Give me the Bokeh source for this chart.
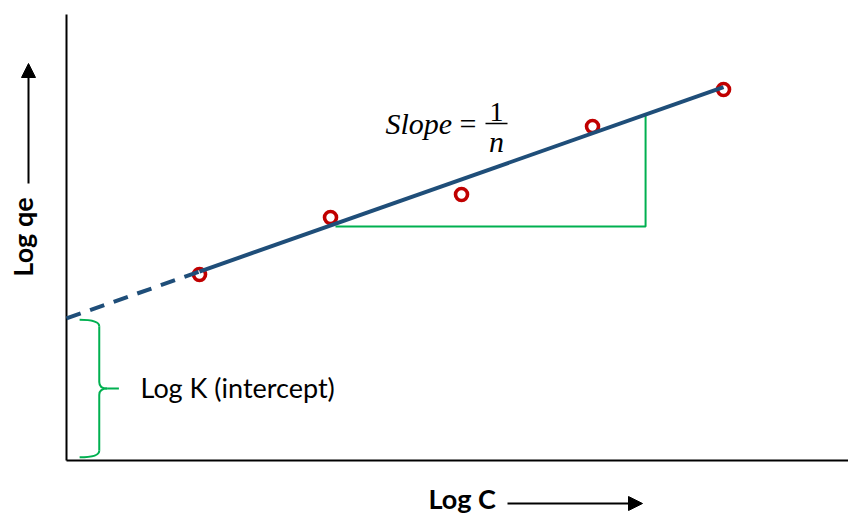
import math

from bokeh.embed import file_html
from bokeh.models import Arrow, Label, NormalHead, Range1d
from bokeh.plotting import figure
from bokeh.resources import INLINE

# Freundlich isotherm, linearised: log qe = log K + (1/n) log C
log_c = [1.0, 2.0, 3.0, 4.0, 5.0]
log_qe = [1.42, 1.855, 2.03, 2.55, 2.832]
log_k = 1.09          # intercept of the fitted line
inv_n = 0.352         # slope of the fitted line (1/n)
slope_run = [2.038, 4.405]   # horizontal leg of the slope triangle (log C)
slope_rise_base = 1.786      # level of the horizontal leg (log qe)

# extent of the drawn axes (data units)
X_START, X_END = -0.0153, 5.954
Y_START, Y_END = 0.0, 3.405

# canvas layout: axes origin at px (66, 460), y axis top at px 14
W, H = 848, 516
LEFT, TOP, BOTTOM = 66, 14, 460
UNIT = (W - LEFT) / (X_END - X_START)   # pixels per data unit (both axes)


def canvas_to_data(xp, yp):
    """Convert a canvas pixel position into data coordinates."""
    return X_START + (xp - LEFT) / UNIT, (BOTTOM - yp) / UNIT


def fit(x):
    return log_k + inv_n * x


BLUE = "#1F4E79"
RED = "#C00000"
GREEN = "#00B050"
SANS = "Lato"
SERIF = "Liberation Serif"

p = figure(
    width=W, height=H,
    x_range=Range1d(X_START - LEFT / UNIT, X_END),
    y_range=Range1d(-(H - BOTTOM) / UNIT, BOTTOM / UNIT),
    x_axis_type=None, y_axis_type=None,
    output_backend="svg", toolbar_location=None,
    min_border=0,
)
p.outline_line_color = None
p.grid.visible = False
p.background_fill_color = "white"
p.border_fill_color = "white"

# axes
p.segment(x0=[X_START, X_START], y0=[Y_START, Y_START],
          x1=[X_START, X_END], y1=[Y_END, Y_START],
          line_color="black", line_width=2)

# slope triangle
x_a, x_b = slope_run
p.line([x_a, x_b, x_b], [slope_rise_base, slope_rise_base, fit(x_b)],
       line_color=GREEN, line_width=2)

# measured points
p.scatter(log_c, log_qe, size=12, marker="circle",
          line_color=RED, line_width=3.6, fill_color="white")

# fitted line: extrapolated part dashed back to the axis
p.line([X_START, log_c[0]], [fit(X_START), fit(log_c[0])],
       line_color=BLUE, line_width=4, line_dash="15 10")
p.line([log_c[0], log_c[-1]], [fit(log_c[0]), fit(log_c[-1])],
       line_color=BLUE, line_width=4)

# curly brace marking the intercept on the y axis
tip = X_START + 0.10
spine = X_START + 0.25
point = X_START + 0.40
top = fit(X_START) - 0.01
bottom = 0.025
mid = (top + bottom) / 2
r = 0.05
bx0 = [tip, spine, spine, spine]
by0 = [top, mid + r, mid - r, bottom + r]
bx1 = [spine, spine + 0.06, spine + 0.06, tip]
by1 = [top - r, mid, mid, bottom]
bcx = [spine, spine, spine, spine]
bcy = [top, mid, mid, bottom]
p.quadratic(x0=bx0, y0=by0, x1=bx1, y1=by1, cx=bcx, cy=bcy,
            line_color=GREEN, line_width=2)
p.segment(x0=[spine, spine, spine + 0.06], y0=[top - r, mid - r, mid],
          x1=[spine, spine, point], y1=[mid + r, bottom + r, mid],
          line_color=GREEN, line_width=2)

# labels
lx, ly = canvas_to_data(140, 387)
p.add_layout(Label(x=lx, y=ly, text="Log K (intercept)", text_font=SANS,
                   text_font_size="27px", text_color="black",
                   text_align="left", text_baseline="alphabetic"))

qx, qy = canvas_to_data(22, 236.5)
p.add_layout(Label(x=qx, y=qy, text="Log qe", text_font=SANS,
                   text_font_style="bold", text_font_size="27px",
                   text_color="black",
                   text_align="center", text_baseline="alphabetic",
                   angle=math.pi / 2))

cx_, cy_ = canvas_to_data(428, 498)
p.add_layout(Label(x=cx_, y=cy_, text="Log C", text_font=SANS,
                   text_font_style="bold", text_font_size="27px",
                   text_color="black",
                   text_align="left", text_baseline="alphabetic"))

# axis direction arrows
head = dict(size=14, fill_color="black", line_color="black")
ax0, ay0 = canvas_to_data(28, 183)
ax1, ay1 = canvas_to_data(28, 63)
p.add_layout(Arrow(x_start=ax0, y_start=ay0, x_end=ax1, y_end=ay1,
                   line_width=2, line_color="black", end=NormalHead(**head)))
bx0_, by0_ = canvas_to_data(507, 503)
bx1_, by1_ = canvas_to_data(642, 503)
p.add_layout(Arrow(x_start=bx0_, y_start=by0_, x_end=bx1_, y_end=by1_,
                   line_width=2, line_color="black", end=NormalHead(**head)))

# slope annotation: Slope = 1/n
sx, sy = canvas_to_data(385, 123)
p.add_layout(Label(x=sx, y=sy, text="Slope", text_font=SERIF,
                   text_font_style="italic", text_font_size="30px",
                   text_color="black",
                   text_align="left", text_baseline="alphabetic"))
ex, ey = canvas_to_data(459, 123)
p.add_layout(Label(x=ex, y=ey, text="=", text_font=SERIF,
                   text_font_size="30px", text_color="black",
                   text_align="left", text_baseline="alphabetic"))
nx, ny = canvas_to_data(496, 111)
p.add_layout(Label(x=nx, y=ny, text="1", text_font=SERIF,
                   text_font_size="28px", text_color="black",
                   text_align="center", text_baseline="alphabetic"))
dx, dy = canvas_to_data(496, 141)
p.add_layout(Label(x=dx, y=dy, text="n", text_font=SERIF,
                   text_font_style="italic", text_font_size="30px",
                   text_color="black",
                   text_align="center", text_baseline="alphabetic"))
fx0, fy = canvas_to_data(485, 123)
fx1, _ = canvas_to_data(507, 123)
p.segment(x0=[fx0], y0=[fy], x1=[fx1], y1=[fy], line_color="black", line_width=1.5)

open("out.html", "w").write(file_html(p, INLINE))
